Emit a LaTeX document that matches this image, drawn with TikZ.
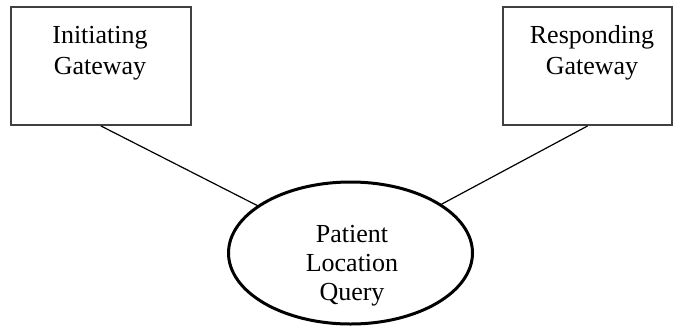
\documentclass[tikz,border=0pt]{standalone}
\usepackage{fontspec}
\setmainfont{Liberation Serif}
\usetikzlibrary{shapes.geometric}
\begin{document}
\begin{tikzpicture}[x=1pt,y=-1pt,
  gwbox/.style={draw=black!75, line width=2pt, rectangle, inner sep=0pt},
  query/.style={draw=black, line width=3pt, ellipse, inner sep=0pt, outer sep=0pt},
  lbl/.style={align=center, inner sep=0pt, font=\fontsize{26}{31}\selectfont},
  conn/.style={draw=black, line width=1.2pt}]
\useasboundingbox (0,0) rectangle (673,333);
\node[gwbox, minimum width=180pt, minimum height=118pt] (ig) at (101,66) {};
\node[gwbox, minimum width=169pt, minimum height=118pt] (rg) at (587.5,66) {};
\node[query, minimum width=244pt, minimum height=142pt] (pq) at (350.5,253) {};
\node[lbl, anchor=base] (igt) at (100,74) {Initiating\\Gateway};
\node[lbl, anchor=base] (rgt) at (592,74) {Responding\\Gateway};
\node[lbl, anchor=base, font=\fontsize{26}{29}\selectfont] (pqt) at (352,300) {Patient\\Location\\Query};
\draw[conn] (ig.south) -- (pq);
\draw[conn] (rg.south) -- (pq);
\end{tikzpicture}
\end{document}
